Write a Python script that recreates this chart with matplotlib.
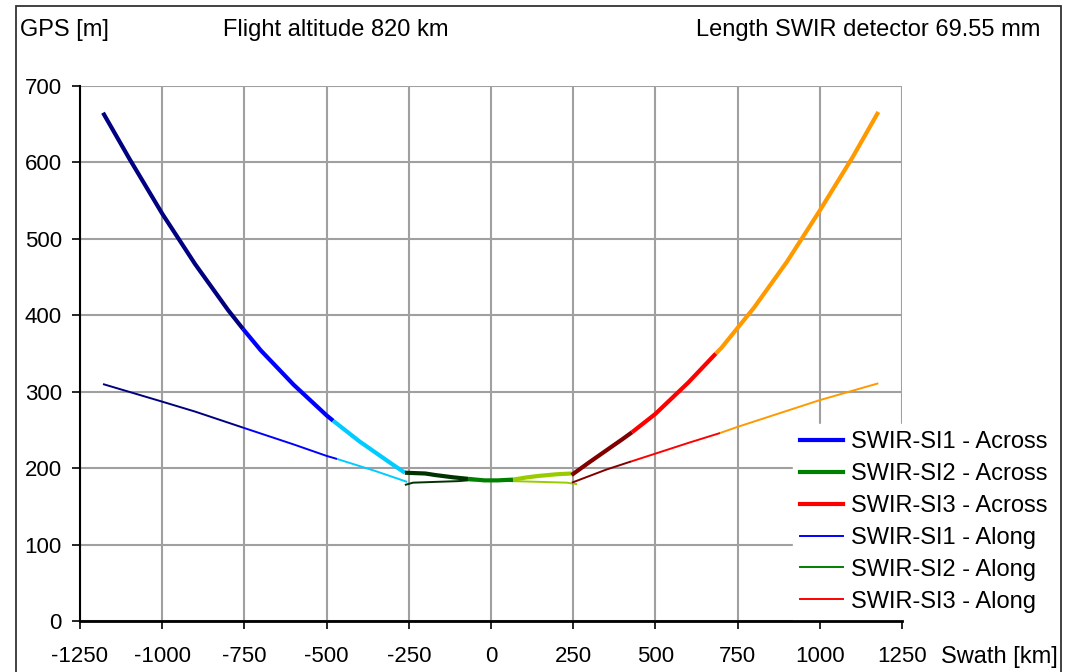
import matplotlib
matplotlib.use("Agg")
import matplotlib.pyplot as plt
from matplotlib.lines import Line2D
from matplotlib.patches import Rectangle

plt.rcParams['font.family'] = ['Liberation Sans', 'DejaVu Sans']

# ---------------- data (swath km, GPS m) ----------------
# SWIR-SI1 Across (thick), three colour segments
si1_across_a_x = [-1180, -1100, -1000, -900, -800, -754]
si1_across_a_y = [665, 605, 533, 467, 407, 382]
si1_across_b_x = [-754, -700, -600, -500, -480]
si1_across_b_y = [382, 354, 309, 269, 262]
si1_across_c_x = [-480, -400, -300, -262]
si1_across_c_y = [262, 235, 205, 194]

# SWIR-SI2 Across
si2_across_a_x = [-262, -200, -170, -115, -70]
si2_across_a_y = [194, 193, 191, 188, 186]
si2_across_b_x = [-70, -20, 20, 67]
si2_across_b_y = [186, 184, 184, 185]
si2_across_c_x = [67, 110, 149, 200, 245]
si2_across_c_y = [185, 188, 190, 192, 193]

# SWIR-SI3 Across
si3_across_a_x = [245, 300, 400, 429]
si3_across_a_y = [191, 208, 238, 247]
si3_across_b_x = [429, 500, 600, 684]
si3_across_b_y = [247, 271, 312, 350]
si3_across_c_x = [684, 700, 800, 900, 1000, 1100, 1178]
si3_across_c_y = [350, 357, 410, 470, 537, 607, 666]

# SWIR-SI1 Along (thin)
si1_along_a_x = [-1180, -1000, -900, -754]
si1_along_a_y = [310, 287, 274, 253]
si1_along_b_x = [-754, -600, -500, -468]
si1_along_b_y = [253, 231, 216, 212]
si1_along_c_x = [-468, -350, -255]
si1_along_c_y = [212, 196, 182]

# SWIR-SI2 Along
si2_along_a_x = [-262, -237, -170, -100, -70]
si2_along_a_y = [178, 181, 182, 183, 184]
si2_along_b_x = [-70, 0, 67]
si2_along_b_y = [184, 184, 183]
si2_along_c_x = [67, 150, 230, 262]
si2_along_c_y = [183, 182, 181, 179]

# SWIR-SI3 Along
si3_along_a_x = [246, 350, 428]
si3_along_a_y = [181, 198, 209]
si3_along_b_x = [428, 500, 600, 697]
si3_along_b_y = [209, 219, 233, 246]
si3_along_c_x = [697, 750, 900, 1000, 1178]
si3_along_c_y = [246, 254, 275, 289, 311]

legend_labels = ['SWIR-SI1 - Across', 'SWIR-SI2 - Across', 'SWIR-SI3 - Across',
                 'SWIR-SI1 - Along', 'SWIR-SI2 - Along', 'SWIR-SI3 - Along']
legend_colors = ['#0000FF', '#008000', '#FF0000', '#0000FF', '#008000', '#FF0000']

x_ticks = [-1250, -1000, -750, -500, -250, 0, 250, 500, 750, 1000, 1250]
y_ticks = [0, 100, 200, 300, 400, 500, 600, 700]

# segment colours
c_si1 = ['#000080', '#0000FF', '#00CCFF']
c_si2 = ['#003300', '#008000', '#99CC00']
c_si3 = ['#800000', '#FF0000', '#FF9900']

W, H = 1065, 672
fig = plt.figure(figsize=(W / 100, H / 100), dpi=100)
ax = fig.add_axes([80 / W, (H - 621) / H, 822 / W, 535 / H])

thick = 3.0
thin = 1.4

along = [
    ((si1_along_a_x, si1_along_a_y), (si1_along_b_x, si1_along_b_y), (si1_along_c_x, si1_along_c_y), c_si1),
    ((si2_along_a_x, si2_along_a_y), (si2_along_b_x, si2_along_b_y), (si2_along_c_x, si2_along_c_y), c_si2),
    ((si3_along_a_x, si3_along_a_y), (si3_along_b_x, si3_along_b_y), (si3_along_c_x, si3_along_c_y), c_si3),
]
across = [
    ((si1_across_a_x, si1_across_a_y), (si1_across_b_x, si1_across_b_y), (si1_across_c_x, si1_across_c_y), c_si1),
    ((si2_across_a_x, si2_across_a_y), (si2_across_b_x, si2_across_b_y), (si2_across_c_x, si2_across_c_y), c_si2),
    ((si3_across_a_x, si3_across_a_y), (si3_across_b_x, si3_across_b_y), (si3_across_c_x, si3_across_c_y), c_si3),
]
for *segs, cols in along:
    for (sx, sy), col in zip(segs, cols):
        ax.plot(sx, sy, color=col, lw=thin, solid_capstyle='butt',
                solid_joinstyle='round', zorder=3)
for *segs, cols in across:
    for (sx, sy), col in zip(segs, cols):
        ax.plot(sx, sy, color=col, lw=thick, solid_capstyle='butt',
                solid_joinstyle='round', zorder=4)

ax.set_xlim(-1250, 1250)
ax.set_ylim(0, 700)
ax.set_xticks(x_ticks)
ax.set_yticks(y_ticks)
ax.set_xticklabels([str(t) for t in x_ticks])
ax.set_yticklabels([str(t) for t in y_ticks])
ax.grid(True, color='#A0A0A0', lw=1.5, zorder=0)
ax.set_axisbelow(True)
for s in ['top', 'right']:
    ax.spines[s].set_visible(False)
ax.spines['left'].set_linewidth(1.5)
ax.spines['bottom'].set_linewidth(2.0)
ax.spines['left'].set_color('black')
ax.spines['bottom'].set_color('black')
ax.spines['bottom'].set_zorder(10)
ax.spines['left'].set_zorder(10)
ax.tick_params(axis='both', direction='out', length=6, width=1.2, color='black',
               labelsize=16)
ax.tick_params(axis='y', pad=7)
ax.tick_params(axis='x', pad=12)

# header texts
fs_head = 17
fig.text(20 / W, 1 - 30 / H, 'GPS [m]', fontsize=fs_head, ha='left', va='center')
fig.text(336 / W, 1 - 30 / H, 'Flight altitude 820 km', fontsize=fs_head, ha='center', va='center')
fig.text(1040 / W, 1 - 30 / H, 'Length SWIR detector 69.55 mm', fontsize=fs_head, ha='right', va='center')
fig.text(999 / W, 1 - 657 / H, 'Swath [km]', fontsize=fs_head, ha='center', va='center')

handles = [Line2D([0], [0], color=c, lw=(thick if i < 3 else thin))
           for i, c in enumerate(legend_colors)]
leg = ax.legend(handles, legend_labels, loc='upper left',
                bbox_to_anchor=(793 / W, 1 - 424 / H), bbox_transform=fig.transFigure,
                fontsize=17,
                frameon=True, facecolor='white', edgecolor='white', framealpha=1,
                fancybox=False, handlelength=1.8, handletextpad=0.35,
                labelspacing=0.42, borderpad=0.3, borderaxespad=0)
leg.set_zorder(6)

fig.patches.append(Rectangle((16 / W, -0.05), (1061 - 16) / W, 1 - 6 / H + 0.05,
                             transform=fig.transFigure, fill=False,
                             edgecolor='#333333', lw=1.3))

fig.savefig('out.png', dpi=100)
